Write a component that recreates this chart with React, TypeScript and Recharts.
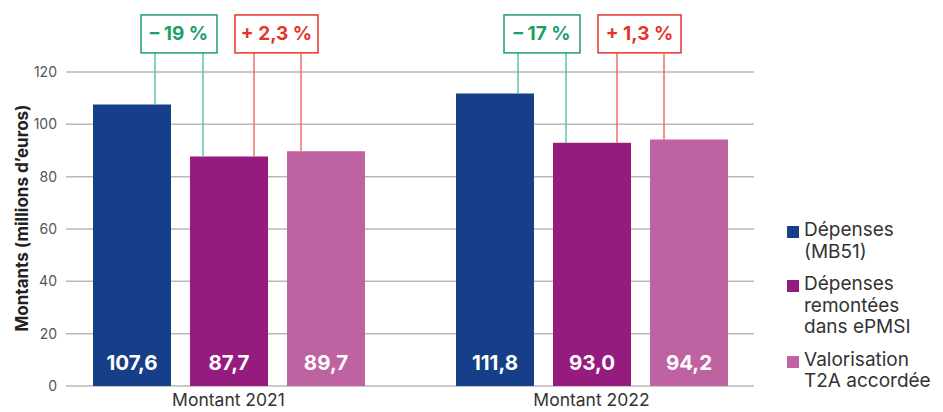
import { BarChart, Bar, XAxis, YAxis, CartesianGrid, LabelList } from "recharts";

const categories = ["Montant 2021", "Montant 2022"];
const depenses = [107.6, 111.8];
const remontees = [87.7, 93.0];
const valorisation = [89.7, 94.2];
const ecartRemontees = ["– 19 %", "– 17 %"];
const ecartValorisation = ["+ 2,3 %", "+ 1,3 %"];
const yTicks = [0, 20, 40, 60, 80, 100, 120];

const series = [
  { key: "depenses", name: ["Dépenses", "(MB51)"], color: "#173e88" },
  { key: "remontees", name: ["Dépenses", "remontées", "dans ePMSI"], color: "#951b7e" },
  { key: "valorisation", name: ["Valorisation", "T2A accordée"], color: "#bf62a2" },
];

const data = categories.map((c, i) => ({
  category: c,
  depenses: depenses[i],
  remontees: remontees[i],
  valorisation: valorisation[i],
}));

const GREEN = "#1d9e69";
const GREEN_LINE = "#5cc79b";
const RED = "#e6332a";
const RED_LINE = "#ee6f69";
// annotation boxes, in axis units
const BOX_BOTTOM = 127.3;
const BOX_TOP = 141.8;

const fmt = (v: number) => v.toFixed(1).replace(".", ",");

function geom(props: any) {
  const x = Number(props.x);
  const y = Number(props.y);
  const w = Number(props.width);
  const h = Number(props.height);
  const v = Number(props.value);
  const ppu = h / v;
  const base = y + h;
  return { x, y, w, h, base, bottom: base - BOX_BOTTOM * ppu, top: base - BOX_TOP * ppu };
}

const ValueLabel = (props: any) => {
  const { x, w, base } = geom(props);
  return (
    <text x={x + w / 2} y={base - 24} fill="#fff" fontSize={20.5} fontWeight={700} textAnchor="middle" dominantBaseline="central">
      {fmt(Number(props.value))}
    </text>
  );
};

const FirstLink = (props: any) => {
  const { x, y, w, bottom } = geom(props);
  return <line x1={x + w - 16} x2={x + w - 16} y1={bottom} y2={y} stroke={GREEN_LINE} strokeWidth={1.5} />;
};

const ThirdLink = (props: any) => {
  const { x, y, bottom } = geom(props);
  return <line x1={x + 14} x2={x + 14} y1={bottom} y2={y} stroke={RED_LINE} strokeWidth={1.5} />;
};

const MiddleLinks = (props: any) => {
  const { x, y, top, bottom } = geom(props);
  const i = Number(props.index ?? 0);
  const bh = bottom - top;
  return (
    <g>
      <line x1={x + 13} x2={x + 13} y1={bottom} y2={y} stroke={GREEN_LINE} strokeWidth={1.5} />
      <line x1={x + 64} x2={x + 64} y1={bottom} y2={y} stroke={RED_LINE} strokeWidth={1.5} />
      <rect x={x - 49} y={top} width={76} height={bh} fill="#fff" stroke={GREEN} strokeWidth={1.5} />
      <text x={x - 11} y={top + bh / 2} fill={GREEN} fontSize={19} fontWeight={700} textAnchor="middle" dominantBaseline="central">
        {ecartRemontees[i]}
      </text>
      <rect x={x + 45} y={top} width={83} height={bh} fill="#fff" stroke={RED} strokeWidth={1.5} />
      <text x={x + 86.5} y={top + bh / 2} fill={RED} fontSize={19} fontWeight={700} textAnchor="middle" dominantBaseline="central">
        {ecartValorisation[i]}
      </text>
    </g>
  );
};

const YLabel = (props: any) => {
  const vb = props.viewBox || {};
  const cx = (vb.x ?? 0) + 14;
  const cy = (vb.y ?? 0) + (vb.height ?? 0) / 2 - 11;
  return (
    <text x={cx} y={cy} transform={`rotate(-90 ${cx} ${cy})`} textAnchor="middle" dominantBaseline="central" fontSize={17} fontWeight={700} fill="#222">
      Montants (millions d’euros)
    </text>
  );
};

export default function App() {
  return (
    <div style={{ position: "relative", width: 927, height: 404, fontFamily: "Inter, sans-serif" }}>
      <BarChart width={927} height={404} data={data} margin={{ top: 64, right: 181, bottom: 0, left: 0 }} barSize={78} barGap={19}>
        <CartesianGrid vertical={false} stroke="#b8b8b8" strokeWidth={1.5} />
        <XAxis
          dataKey="category"
          tickLine={false}
          axisLine={false}
          height={26}
          tickMargin={2}
          padding={{ left: -19, right: -19 }}
          tick={{ fontSize: 17.5, fill: "#333" }}
        />
        <YAxis
          domain={[0, 120]}
          ticks={yTicks}
          width={58}
          tickLine={false}
          axisLine={false}
          tickMargin={3}
          tick={{ fontSize: 14, fill: "#555" }}
          label={<YLabel />}
        />
        <Bar dataKey="depenses" fill={series[0].color} isAnimationActive={false}>
          <LabelList dataKey="depenses" content={<FirstLink />} />
          <LabelList dataKey="depenses" content={<ValueLabel />} />
        </Bar>
        <Bar dataKey="remontees" fill={series[1].color} isAnimationActive={false}>
          <LabelList dataKey="remontees" content={<MiddleLinks />} />
          <LabelList dataKey="remontees" content={<ValueLabel />} />
        </Bar>
        <Bar dataKey="valorisation" fill={series[2].color} isAnimationActive={false}>
          <LabelList dataKey="valorisation" content={<ThirdLink />} />
          <LabelList dataKey="valorisation" content={<ValueLabel />} />
        </Bar>
      </BarChart>
      <div style={{ position: "absolute", left: 779, top: 211, color: "#333", fontSize: 19, lineHeight: "21.5px" }}>
        {series.map((s) => (
          <div key={s.key} style={{ display: "flex", alignItems: "flex-start", marginBottom: 11 }}>
            <div style={{ width: 12, height: 12, background: s.color, marginTop: 7, marginRight: 5, flexShrink: 0 }} />
            <div>
              {s.name.map((n) => (
                <div key={n}>{n}</div>
              ))}
            </div>
          </div>
        ))}
      </div>
    </div>
  );
}
